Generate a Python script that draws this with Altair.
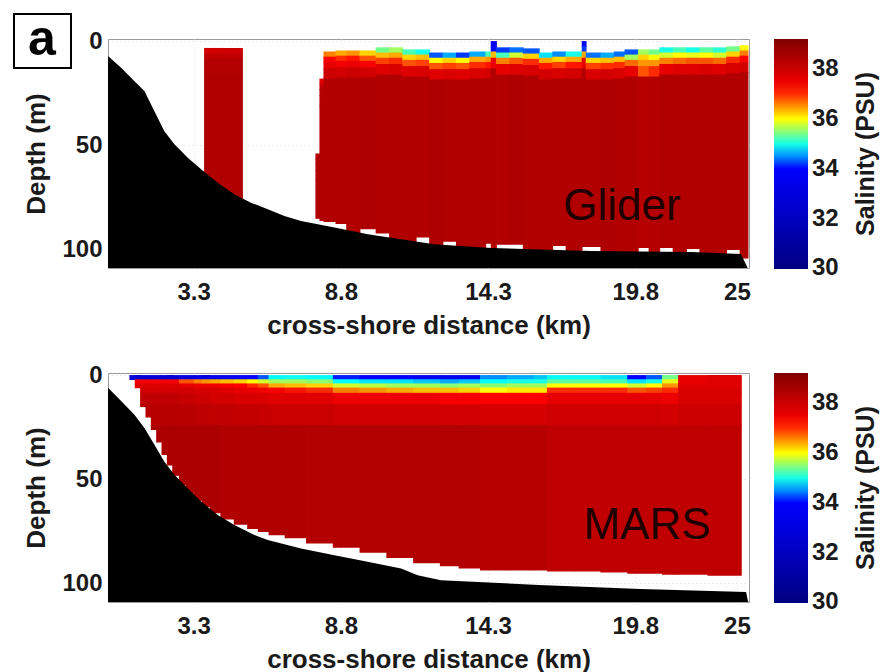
import altair as alt
import pandas as pd

FONT = "Liberation Sans"

# ---------------- colour scale (jet-like, as in the colour bars) ----------------
SAL_STOPS = [30.0, 34.0, 34.9, 36.0, 37.2, 39.2]
SAL_COLORS = ["#000080", "#0000ff", "#00ffff", "#ffff00", "#ff0000", "#800000"]
LEGEND_VALUES = [30, 32, 34, 36, 38]
LEGEND_TITLE = "Salinity (PSU)"

# ---------------- axes ----------------
X_TICKS = [3.3, 8.8, 14.3, 19.8, 23.6]
X_TICK_LABELS = ["3.3", "8.8", "14.3", "19.8", "25"]
Y_TICKS = [0, 50, 100]
X_DOMAIN = [0.1, 24.05]
Y_DOMAIN = [-1, 109]

# ---------------- Glider section (profiles) ----------------
G_X0 = [3.69, 4.40, 7.85, 8.00, 8.15, 8.60, 9.00, 9.50, 10.10, 10.60, 11.10, 11.60,
        12.10, 12.60, 13.10, 13.60, 14.20, 14.40, 14.60, 15.10, 15.60, 16.20, 16.70,
        17.20, 17.80, 17.95, 18.50, 19.00, 19.40, 19.90, 20.30, 20.70, 21.20, 21.70,
        22.20, 22.70, 23.20, 23.70]
G_X1 = [4.40, 5.11, 8.00, 8.15, 8.60, 9.00, 9.50, 10.10, 10.60, 11.10, 11.60, 12.10,
        12.60, 13.10, 13.60, 14.20, 14.40, 14.60, 15.10, 15.60, 16.20, 16.70, 17.20,
        17.80, 17.95, 18.50, 19.00, 19.40, 19.90, 20.30, 20.70, 21.20, 21.70, 22.20,
        22.70, 23.20, 23.70, 24.00]
G_TOP = [3.3, 3.3, 54, 18, 5, 4.5, 4.5, 4.5, 3, 3, 4, 4, 5.5, 5.5, 5.5, 5, 5, 0, 3, 3,
         3.5, 5.5, 5, 5, 0, 5.5, 5.5, 5, 4, 4, 4, 3, 3, 3, 3, 3, 2.5, 2]
G_L1 = [37.9, 38.0, 38.4, 37.6, 36.6, 36.4, 36.5, 36.2, 35.4, 35.6, 35.2, 35.0, 34.3,
        34.6, 34.2, 34.6, 35.2, 33.6, 34.2, 34.4, 34.3, 34.8, 34.5, 35.0, 33.6, 34.4,
        34.6, 34.4, 34.3, 35.6, 35.4, 35.0, 35.2, 35.0, 35.3, 35.1, 35.4, 36.0]
G_L2 = [38.2, 38.2, 38.4, 38.2, 37.2, 37.0, 37.1, 36.8, 36.3, 36.4, 36.2, 36.3, 36.0,
        36.2, 36.0, 36.4, 36.5, 34.0, 35.2, 35.8, 36.2, 36.4, 36.2, 36.4, 34.2, 36.2,
        36.3, 36.3, 35.6, 36.2, 36.0, 35.8, 36.0, 35.9, 36.0, 35.8, 36.2, 36.6]
G_L3 = [38.4, 38.4, 38.4, 38.4, 37.6, 37.4, 37.5, 37.3, 36.9, 37.0, 36.8, 36.9, 36.8,
        36.9, 36.8, 37.0, 37.1, 36.3, 36.6, 36.8, 37.0, 37.1, 36.9, 37.1, 36.4, 36.9,
        37.0, 37.0, 36.7, 36.5, 36.5, 36.6, 36.7, 36.8, 36.8, 36.7, 37.0, 37.2]
G_L4 = [38.4, 38.4, 38.4, 38.4, 38.0, 37.9, 38.0, 37.9, 37.7, 37.8, 37.7, 37.8, 37.7,
        37.8, 37.7, 37.8, 37.9, 37.5, 37.6, 37.7, 37.8, 37.9, 37.8, 37.9, 37.6, 37.8,
        37.9, 37.8, 37.6, 36.8, 37.0, 37.6, 37.7, 37.7, 37.8, 37.7, 37.8, 37.9]
G_BODY = [38.45, 38.45, 38.45, 38.45, 38.42, 38.45, 38.45, 38.47, 38.42, 38.45, 38.45,
          38.42, 38.47, 38.45, 38.45, 38.42, 38.45, 38.45, 38.42, 38.47, 38.45, 38.45,
          38.42, 38.45, 38.45, 38.42, 38.47, 38.45, 38.42, 38.35, 38.38, 38.45, 38.45,
          38.42, 38.45, 38.45, 38.42, 38.45]
G_BOTTOM = [80, 80, 85, 86, 86.5, 87.5, 95, 90, 92, 99, 99, 94, 100, 96, 102, 102, 97,
            102, 97.5, 97.5, 103, 103, 98, 103, 98.5, 98.5, 104, 104, 104, 99, 104, 99,
            104, 99.5, 104, 104, 100, 104]
G_LAYER_OFFSETS = [0, 2.5, 5, 8, 13]  # below the first sampled depth

# Glider-panel bathymetry
G_BATHY_KM = [0.1, 0.59, 1.08, 1.46, 1.83, 2.2, 2.58, 3.08, 3.58, 4.2, 4.82, 5.44, 6.07,
              6.69, 7.31, 7.94, 8.56, 9.81, 11.05, 12.29, 14.41, 18.15, 21.89, 23.75, 24.0]
G_BATHY_D = [7.2, 12.8, 19.2, 24.0, 33.6, 43.2, 49.6, 56.0, 61.6, 68.0, 73.6, 77.6, 80.8,
             84.0, 86.4, 88.0, 89.6, 92.8, 95.2, 97.6, 99.4, 100.8, 101.3, 102.3, 109]

# ---------------- MARS model section ----------------
M_EDGES = [0.9, 1.1, 1.3, 1.5, 1.7, 1.9, 2.1, 2.3, 2.5, 2.75, 3.0, 3.3, 3.6, 3.9, 4.3,
           4.8, 5.3, 5.7, 6.1, 6.7, 7.5, 8.5, 9.5, 10.5, 11.5, 12.5, 13.2, 14.0, 15.0,
           16.0, 16.5, 17.5, 18.5, 19.5, 20.2, 20.8, 21.4, 22.5, 23.75]
M_LAYER_DEPTHS = [0, 2, 4, 6, 8.5, 14, 24]
M_L1 = [32.8] * 9 + [33.0, 33.0, 33.2, 33.2, 33.4, 33.6, 33.8, 34.0, 34.3] + \
       [34.9, 34.95, 34.9] + [34.1, 34.0, 33.9, 33.7] + [33.5, 33.6] + \
       [34.5, 34.6, 34.7] + [34.9, 34.9, 34.8] + [34.0, 34.3, 35.4, 37.6, 37.7]
M_L2 = [37.4] * 9 + [36.8, 36.8, 36.6, 36.5, 36.4, 36.3, 36.2, 36.0, 35.8] + \
       [35.6, 35.6, 35.5] + [34.9, 34.8, 34.8, 34.7] + [34.6, 34.7] + \
       [34.9, 35.0, 35.0] + [35.3, 35.3, 35.2] + [34.8, 35.0, 35.9, 37.6, 37.7]
M_L3 = [37.7] * 9 + [37.6, 37.6, 37.5, 37.5, 37.4, 37.3, 37.2, 37.0, 36.8] + \
       [36.4, 36.3, 36.2] + [35.8, 35.7, 35.6, 35.6] + [35.5, 35.6] + \
       [35.5, 35.6, 35.6] + [36.0, 36.0, 36.0] + [35.8, 36.0, 36.5, 37.7, 37.7]
M_L4 = [37.9] * 9 + [37.9, 37.9, 37.8, 37.8, 37.8, 37.7, 37.6, 37.5, 37.4] + \
       [37.2, 37.1, 37.0] + [36.6, 36.5, 36.4, 36.3] + [36.3, 36.2] + \
       [36.0, 36.1, 36.1] + [37.0, 37.0, 37.0] + [36.8, 36.9, 37.0, 37.8, 37.8]
M_L5 = [38.2] * 9 + [38.1, 38.1, 38.0, 38.0, 37.9, 37.9, 37.8, 37.8, 37.8] + \
       [37.7, 37.7, 37.7] + [37.5, 37.5, 37.5, 37.5] + [37.3, 37.3] + \
       [37.2, 37.2, 37.2] + [37.6, 37.6, 37.6] + [37.6, 37.6, 37.5, 37.8, 37.8]
M_L6 = [38.35] * 9 + [38.3, 38.3, 38.25, 38.25, 38.2, 38.2, 38.15, 38.15, 38.1] + \
       [38.05, 38.05, 38.05] + [37.95, 37.95, 37.95, 37.95] + [37.9, 37.9] + \
       [37.85, 37.85, 37.85] + [37.95, 37.95, 37.95] + [37.95, 37.95, 37.9, 38.0, 38.0]
M_L7 = [38.5] * 9 + [38.5, 38.5, 38.5, 38.5, 38.5, 38.45, 38.45, 38.45, 38.45] + \
       [38.45, 38.45, 38.4] + [38.4, 38.4, 38.4, 38.4] + [38.4, 38.4] + \
       [38.35, 38.35, 38.35] + [38.2, 38.2, 38.2] + [38.2, 38.2, 38.2, 38.2, 38.2]
M_BOTTOM = [2, 6, 15, 20, 26, 32, 38, 43, 48, 52.5, 56.5, 60, 63, 66, 69, 71.5, 73.5,
            75, 76.5, 78, 80.5, 82.5, 85, 87.5, 90, 91.5, 92.5, 93.5, 93.5, 93.5, 94,
            94, 94.5, 95, 95, 95.5, 95.5, 96]

# MARS-panel bathymetry
M_BATHY_KM = [0.1, 0.59, 1.08, 1.46, 1.83, 2.2, 2.58, 3.08, 3.58, 4.2, 4.82, 5.57, 6.07,
              7.31, 8.56, 9.8, 11.05, 11.67, 12.54, 16.2, 20.0, 23.94, 24.02]
M_BATHY_D = [6.1, 12.5, 18.9, 25.4, 33.4, 41.5, 47.9, 54.3, 60.7, 67.2, 72.0, 76.8, 79.2,
             83.3, 86.5, 89.7, 92.9, 96.1, 98.5, 100.8, 102.7, 104.2, 109]


def glider_cells():
    rows = []
    layers = [G_L1, G_L2, G_L3, G_L4, G_BODY]
    for i in range(len(G_X0)):
        top, bottom = G_TOP[i], G_BOTTOM[i]
        bounds = [top + o for o in G_LAYER_OFFSETS] + [bottom]
        for k, vals in enumerate(layers):
            d0, d1 = bounds[k], min(bounds[k + 1], bottom)
            if d1 > d0:
                rows.append({"x0": G_X0[i], "x1": G_X1[i], "d0": d0, "d1": d1, "sal": vals[i]})
    return pd.DataFrame(rows)


def mars_cells():
    rows = []
    layers = [M_L1, M_L2, M_L3, M_L4, M_L5, M_L6, M_L7]
    for i in range(len(M_EDGES) - 1):
        bottom = M_BOTTOM[i]
        bounds = M_LAYER_DEPTHS + [bottom]
        for k, vals in enumerate(layers):
            d0, d1 = bounds[k], min(bounds[k + 1], bottom)
            if d1 > d0:
                rows.append({"x0": M_EDGES[i], "x1": M_EDGES[i + 1], "d0": d0, "d1": d1, "sal": vals[i]})
    return pd.DataFrame(rows)


label_expr = " : ".join(
    [f"datum.value == {v} ? '{t}'" for v, t in zip(X_TICKS, X_TICK_LABELS)] + ["''"]
)

x_scale = alt.Scale(domain=X_DOMAIN, nice=False, zero=False)
y_scale = alt.Scale(domain=Y_DOMAIN, nice=False, zero=False, reverse=True)
x_axis = alt.Axis(values=X_TICKS, labelExpr=label_expr, title="cross-shore distance (km)")
y_axis = alt.Axis(values=Y_TICKS, title="Depth (m)")
color_scale = alt.Scale(domain=SAL_STOPS, range=SAL_COLORS, interpolate="rgb")

CB_LABEL_STYLE = dict(font=FONT, fontSize=24, fontWeight="bold", color="#1a1a1a")


def panel(cells, bathy_km, bathy_d, name, name_x, name_y, with_tag):
    legend = alt.Legend(
        type="gradient", title=None, values=LEGEND_VALUES[1:], orient="right",
        direction="vertical", gradientLength=230, gradientThickness=34,
        gradientStrokeWidth=0, offset=25, padding=0, labelOffset=4, labelFont=FONT,
        labelFontSize=24, labelFontWeight="bold", labelColor="#1a1a1a",
    )
    rects = alt.Chart(cells).mark_rect(x2Offset=0.8, y2Offset=0.8).encode(
        x=alt.X("x0:Q", scale=x_scale, axis=x_axis, title="cross-shore distance (km)"),
        x2="x1:Q",
        y=alt.Y("d0:Q", scale=y_scale, axis=y_axis, title="Depth (m)"),
        y2="d1:Q",
        color=alt.Color("sal:Q", scale=color_scale, legend=legend),
    )
    bathy = alt.Chart(pd.DataFrame({"km": bathy_km, "depth": bathy_d})).mark_area(
        color="black", interpolate="linear"
    ).encode(
        x=alt.X("km:Q", scale=x_scale, axis=x_axis, title="cross-shore distance (km)"),
        y=alt.Y("depth:Q", scale=y_scale, axis=y_axis, title="Depth (m)"),
        y2=alt.datum(Y_DOMAIN[1]),
    )
    label = alt.Chart(pd.DataFrame({"t": [name]})).mark_text(
        font=FONT, fontSize=44, color="#1e0000", align="center", baseline="alphabetic"
    ).encode(text="t:N", x=alt.value(name_x), y=alt.value(name_y))
    cbar_title = alt.Chart(pd.DataFrame({"t": [LEGEND_TITLE]})).mark_text(
        font=FONT, fontSize=25, fontWeight="bold", color="#1a1a1a", angle=270,
        align="center", baseline="middle"
    ).encode(text="t:N", x=alt.value(758), y=alt.value(115))
    # lowest colour-bar label, centred on the bar's bottom end as in the original
    cbar_min = alt.Chart(pd.DataFrame({"t": [str(LEGEND_VALUES[0])]})).mark_text(
        align="left", baseline="middle", **CB_LABEL_STYLE
    ).encode(text="t:N", x=alt.value(704), y=alt.value(229))
    layers = [rects, bathy, label, cbar_title, cbar_min]
    if with_tag:
        tag_df = pd.DataFrame({"t": ["a"]})
        box = alt.Chart(tag_df).mark_rect(fillOpacity=0, stroke="black", strokeWidth=2).encode(
            x=alt.value(-94), x2=alt.value(-37), y=alt.value(-25), y2=alt.value(29)
        )
        tag = alt.Chart(tag_df).mark_text(
            font=FONT, fontSize=50, fontWeight="bold", color="black",
            align="center", baseline="alphabetic"
        ).encode(text="t:N", x=alt.value(-66), y=alt.value(16))
        layers += [box, tag]
    return alt.layer(*layers).properties(width=641, height=229)


top = panel(glider_cells(), G_BATHY_KM, G_BATHY_D, "Glider", 514, 181, True)
bottom = panel(mars_cells(), M_BATHY_KM, M_BATHY_D, "MARS", 539, 166, False)

chart = alt.vconcat(top, bottom, spacing=105, bounds="flush").resolve_scale(
    color="independent"
).properties(
    padding={"left": 12, "top": 12, "right": 0, "bottom": 0},
    background="white",
).configure_axis(
    labelFont=FONT, labelFontSize=24, labelFontWeight="bold", labelColor="#1a1a1a",
    titleFont=FONT, titleFontSize=26, titleFontWeight="bold", titleColor="#1a1a1a",
    grid=True, gridColor="#dadada", gridDash=[1, 3], domain=False, ticks=False,
).configure_axisX(labelPadding=12, titlePadding=8).configure_axisY(
    labelPadding=6, titlePadding=12
).configure_view(stroke="#9a9a9a", strokeWidth=1)

chart.save("out.html", embed_options={"renderer": "svg", "actions": False})
